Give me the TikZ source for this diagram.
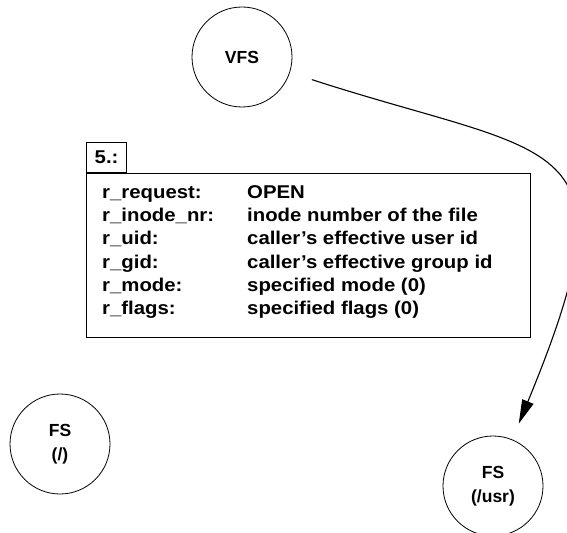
\documentclass[tikz,border=0pt]{standalone}
\usepackage{fontspec}
\setmainfont{Liberation Sans}
\newfontfamily\widesans[FakeStretch=1.1]{Liberation Sans}
\usetikzlibrary{arrows.meta,positioning}

\tikzset{
  msgfont/.style={font=\widesans\bfseries\fontsize{18.5bp}{23.2bp}\selectfont},
  procfont/.style={font=\bfseries\fontsize{17.5bp}{23.5bp}\selectfont},
  proc/.style={draw, circle, line width=0.8bp, minimum size=100bp, inner sep=0pt, align=center, procfont},
  numbox/.style={draw, line width=1.2bp, minimum width=40bp, minimum height=30bp, inner sep=0pt, msgfont},
  msgbox/.style={draw, line width=1.2bp, minimum width=444bp, minimum height=164bp, inner sep=0pt}
}

\begin{document}
\begin{tikzpicture}[x=1bp,y=-1bp]
  \useasboundingbox (0,0) rectangle (567,533);

  % processes
  \node[proc] (vfs) at (242,57) {VFS};
  \node[proc] (fsroot) at (60,444) {FS\\(/)};
  \node[proc] (fsusr) at (493,486) {FS\\(/usr)};

  % message 5
  \node[numbox, anchor=south west] (msgnum) at (86,173) {5.:};
  \node[msgbox, anchor=north west] (msg) at (msgnum.south west) {};
  \node[msgfont, anchor=base west, inner sep=0pt] (msgtext) at (102,198.5) {%
    \begin{tabular}[t]{@{}p{145bp}@{}l@{}}
      r\_request:   & OPEN\\
      r\_inode\_nr: & inode number of the file\\
      r\_uid:       & caller’s effective user id\\
      r\_gid:       & caller’s effective group id\\
      r\_mode:      & specified mode (0)\\
      r\_flags:     & specified flags (0)
    \end{tabular}};

  \draw[-{Triangle[length=24bp,width=12bp]}, line width=1.1bp, shorten <=23bp, shorten >=17bp]
    (vfs) .. controls (560,160) and (640,130) .. (fsusr);
\end{tikzpicture}
\end{document}
